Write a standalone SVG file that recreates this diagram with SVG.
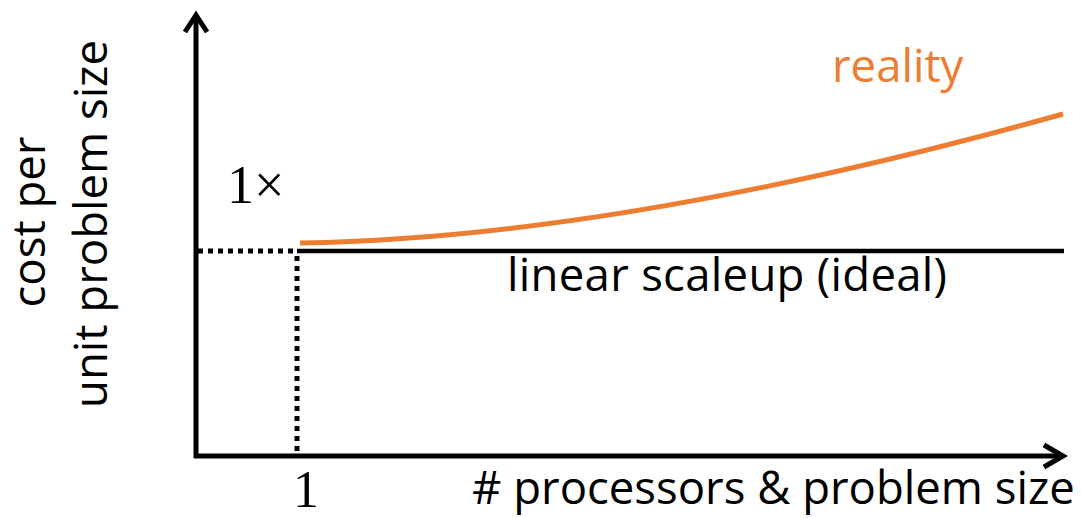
<svg xmlns="http://www.w3.org/2000/svg" width="1082" height="518" viewBox="0 0 1082 518">
<style>
.t{font-family:"Open Sans","Noto Sans",sans-serif;font-size:45.5px;fill:#000}
.s{font-family:"Liberation Serif",serif;font-size:54px;fill:#000}
.ax{stroke:#000;stroke-width:5;fill:none;stroke-linecap:butt}
.dot{stroke:#000;stroke-width:5;stroke-dasharray:5 5;fill:none}
</style>
<rect width="1082" height="518" fill="#fff"/>
<g id="connectors">
<path class="ax" d="M196,458 V16"/>
<path class="ax" d="M185,32 L196,15 L207,32" stroke-linejoin="miter"/>
<path class="ax" d="M194,456 H1062"/>
<path class="ax" d="M1044,445 L1063,456 L1044,467" stroke-linejoin="miter"/>
<path class="dot" d="M198,251 H297"/>
<path class="dot" d="M297,256 V455"/>
<path d="M297,251 H1064" stroke="#000" stroke-width="4.5" fill="none"/>
<path d="M300,243 Q620,238 1063,114" stroke="#ED7D31" stroke-width="5" fill="none"/>
</g>
<g id="ylabel">
<text class="t" text-anchor="middle" transform="translate(45,222) rotate(-90)">cost per</text>
<text class="t" text-anchor="middle" transform="translate(107,224) rotate(-90)">unit problem size</text>
</g>
<g id="xlabel"><text class="t" x="472" y="504">#&#160;processors &amp; problem size</text></g>
<g id="reality"><text class="t" x="832" y="82" style="fill:#ED7D31">reality</text></g>
<g id="ideal"><text class="t" x="507" y="291" textLength="440">linear scaleup (ideal)</text></g>
<g id="one-x"><text class="s" x="227" y="203">1×</text></g>
<g id="one"><text class="s" x="306" y="507" text-anchor="middle" style="font-size:52px">1</text></g>
</svg>
